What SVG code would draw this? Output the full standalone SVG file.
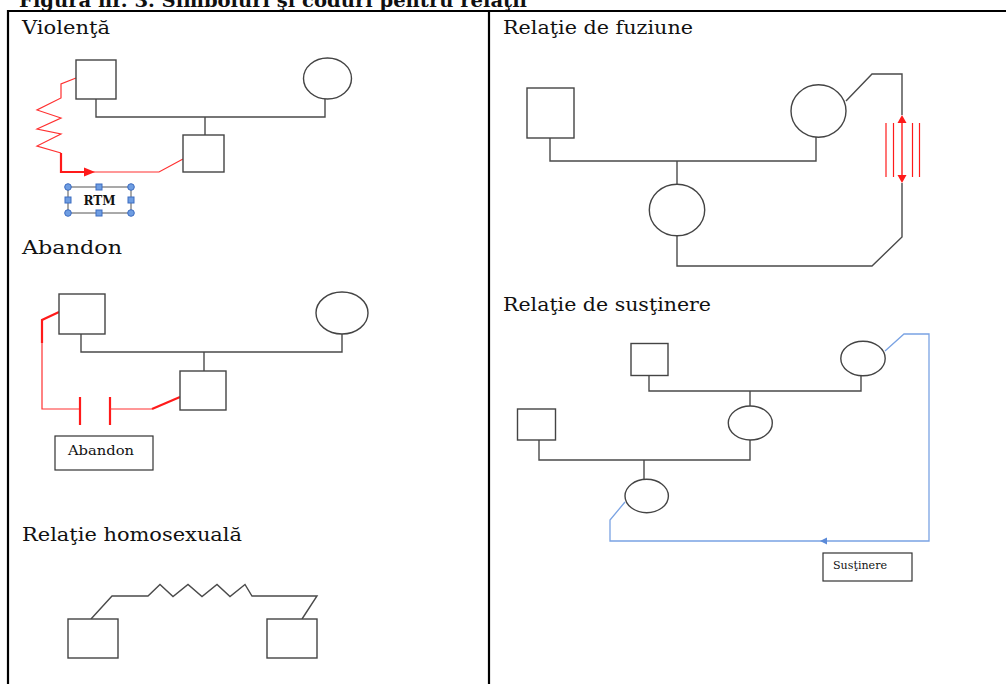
<svg xmlns="http://www.w3.org/2000/svg" width="1006" height="684" viewBox="0 0 1006 684">
<style>
.t{font-family:"DejaVu Serif","Liberation Serif",serif;fill:#111}
.lbl{font-size:19px}
.shape{fill:#fff;stroke:#444;stroke-width:1.4}
.ln{fill:none;stroke:#4a4a4a;stroke-width:1.4}
.red{fill:none;stroke:#ff3030;stroke-width:1.2}
.redT{fill:none;stroke:#ff1a1a;stroke-width:2.2}
.blue{fill:none;stroke:#7aa3e3;stroke-width:1.3}
.box{fill:#fff;stroke:#333;stroke-width:1.2}
.hc{fill:#6e9de2;stroke:#3d6cc0;stroke-width:1}
.tbl{stroke:#000;stroke-width:2.2;fill:none}
</style>
<rect width="1006" height="684" fill="#fff"/>
<g id="table">
<text class="t" x="19" y="7" font-size="18" font-weight="bold" textLength="508" lengthAdjust="spacingAndGlyphs">Figura nr. 3.  Simboluri şi coduri pentru relaţii</text>
<line class="tbl" x1="7" y1="11" x2="1006" y2="11"/>
<line class="tbl" x1="8" y1="10" x2="8" y2="684"/>
<line class="tbl" x1="489" y1="11" x2="489" y2="684"/>
</g>
<g id="labels">
<text class="t lbl" x="22" y="34" textLength="88" lengthAdjust="spacingAndGlyphs">Violenţă</text>
<text class="t lbl" x="503" y="34" textLength="190" lengthAdjust="spacingAndGlyphs">Relaţie de fuziune</text>
<text class="t lbl" x="22" y="254" textLength="100" lengthAdjust="spacingAndGlyphs">Abandon</text>
<text class="t lbl" x="22" y="541" textLength="220" lengthAdjust="spacingAndGlyphs">Relaţie homosexuală</text>
<text class="t lbl" x="503" y="311" textLength="208" lengthAdjust="spacingAndGlyphs">Relaţie de susţinere</text>
</g>
<g id="connectors">
<!-- Violence -->
<polyline class="ln" points="96,99 96,117 325,117 325,99"/>
<line class="ln" x1="205" y1="117" x2="205" y2="135"/>
<polyline class="red" points="76,78 61,84 61,98 37,110 61,118 37,129 61,134 37,146 61,153"/>
<polyline class="redT" points="61,153 61,172 90,172"/>
<polyline class="red" points="90,172 159,172 183,159"/>
<polygon points="84,167.5 95,172 84,176.5" fill="#ff1a1a"/>
<!-- Abandon -->
<polyline class="ln" points="81,334 81,352 342,352 342,334"/>
<line class="ln" x1="204" y1="352" x2="204" y2="371"/>
<polyline class="redT" points="59,312 42,320 42,343"/>
<polyline class="red" points="42,343 42,409 80,409"/>
<line class="redT" x1="80" y1="397" x2="80" y2="425"/>
<line class="redT" x1="110" y1="397" x2="110" y2="425"/>
<line class="red" x1="110" y1="409" x2="152" y2="409"/>
<line class="redT" x1="152" y1="409" x2="180" y2="397"/>
<!-- Homosexual -->
<polyline class="ln" points="91,619 112,596 148,596 160,584.5 173,596.5 188,584.5 202,596.5 217,584.5 230,596.5 245,584.5 252,596 317,596 302,619"/>
<!-- Fusion -->
<polyline class="ln" points="550,138 550,161 816,161 816,137"/>
<line class="ln" x1="677" y1="161" x2="677" y2="184"/>
<polyline class="ln" points="677,236 677,266 872,266 902,237 902,183"/>
<polyline class="ln" points="846,101 872,74 902,74 902,115"/>
<line x1="902" y1="121" x2="902" y2="177" stroke="#ff1a1a" stroke-width="1.4"/>
<polygon points="902,115 897.5,123 906.5,123" fill="#ff1a1a"/>
<polygon points="902,183 897.5,175 906.5,175" fill="#ff1a1a"/>
<line x1="886" y1="123" x2="886" y2="177" stroke="#ff1a1a" stroke-width="1.2"/>
<line x1="893.5" y1="123" x2="893.5" y2="177" stroke="#ff1a1a" stroke-width="1.2"/>
<line x1="912.5" y1="123" x2="912.5" y2="177" stroke="#ff1a1a" stroke-width="1.2"/>
<line x1="919.5" y1="123" x2="919.5" y2="177" stroke="#ff1a1a" stroke-width="1.2"/>
<!-- Support -->
<polyline class="ln" points="649,376 649,391 861,391 861,376"/>
<line class="ln" x1="750" y1="391" x2="750" y2="406"/>
<polyline class="ln" points="539,440 539,460 750,460 750,440"/>
<line class="ln" x1="644" y1="460" x2="644" y2="479"/>
<polyline class="blue" points="625,502 610,520 610,541 929,541 929,334 904,334 885,351"/>
<polygon points="820,541 827,537.5 827,544.5" fill="#5b8ad8"/>
</g>
<g id="violence-father"><rect class="shape" x="76" y="60" width="40" height="39"/></g>
<g id="violence-mother"><ellipse class="shape" cx="327.5" cy="78.5" rx="24" ry="20.5"/></g>
<g id="violence-child"><rect class="shape" x="183" y="135" width="41" height="37"/></g>
<g id="rtm-label">
<rect x="68" y="187" width="63" height="26" fill="#fff" stroke="#555" stroke-width="1"/>
<text class="t" x="99.5" y="205" font-size="13" font-weight="bold" text-anchor="middle" textLength="32" lengthAdjust="spacingAndGlyphs">RTM</text>
<circle class="hc" cx="68" cy="187" r="3.3"/>
<circle class="hc" cx="131" cy="187" r="3.3"/>
<circle class="hc" cx="68" cy="213" r="3.3"/>
<circle class="hc" cx="131" cy="213" r="3.3"/>
<rect class="hc" x="96" y="184" width="6" height="6"/>
<rect class="hc" x="96" y="210" width="6" height="6"/>
<rect class="hc" x="65" y="197" width="6" height="6"/>
<rect class="hc" x="128" y="197" width="6" height="6"/>
</g>
<g id="abandon-father"><rect class="shape" x="59" y="294" width="46" height="40"/></g>
<g id="abandon-mother"><ellipse class="shape" cx="342" cy="313" rx="26" ry="21"/></g>
<g id="abandon-child"><rect class="shape" x="180" y="371" width="46" height="39"/></g>
<g id="abandon-label">
<rect class="box" x="55" y="436" width="98" height="34"/>
<text class="t" x="68" y="455" font-size="13.5" textLength="66" lengthAdjust="spacingAndGlyphs">Abandon</text>
</g>
<g id="homo-left"><rect class="shape" x="68" y="619" width="50" height="39"/></g>
<g id="homo-right"><rect class="shape" x="267" y="619" width="50" height="39"/></g>
<g id="fusion-father"><rect class="shape" x="527" y="88" width="47" height="50"/></g>
<g id="fusion-mother"><ellipse class="shape" cx="818.5" cy="111" rx="27.5" ry="26.2"/></g>
<g id="fusion-child"><ellipse class="shape" cx="677" cy="210" rx="27.7" ry="25.8"/></g>
<g id="support-grandfather"><rect class="shape" x="631" y="343.5" width="37" height="32"/></g>
<g id="support-grandmother"><ellipse class="shape" cx="863" cy="358.5" rx="22.2" ry="17.3"/></g>
<g id="support-mother"><ellipse class="shape" cx="750.3" cy="423" rx="22" ry="17"/></g>
<g id="support-father"><rect class="shape" x="517.5" y="409" width="38" height="31"/></g>
<g id="support-child"><ellipse class="shape" cx="646.7" cy="496" rx="21.7" ry="16.7"/></g>
<g id="support-label">
<rect class="box" x="823" y="553" width="89" height="28"/>
<text class="t" x="833" y="568.5" font-size="10.5" textLength="54" lengthAdjust="spacingAndGlyphs">Susţinere</text>
</g>
</svg>
